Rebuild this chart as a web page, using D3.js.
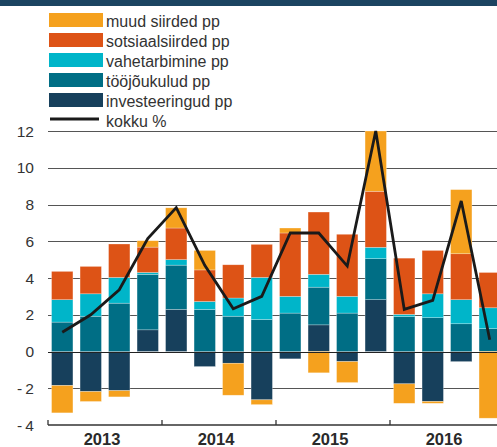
<!DOCTYPE html>
<html>
<head>
<meta charset="utf-8">
<script src="https://cdn.jsdelivr.net/npm/d3@7"></script>
<style>
  html, body { margin: 0; padding: 0; background: #fff; }
  svg { display: block; font-family: "Liberation Sans", Arial, sans-serif; }
</style>
</head>
<body>
<svg id="chart" width="497" height="447"></svg>
<script>
// Quarterly contributions (percentage points) and the total change (%)
const quarters = ["2013Q1","2013Q2","2013Q3","2013Q4","2014Q1","2014Q2","2014Q3","2014Q4",
                  "2015Q1","2015Q2","2015Q3","2015Q4","2016Q1","2016Q2","2016Q3","2016Q4"];
const years = ["2013", "2014", "2015", "2016"];
const investeeringud = [-1.85, -2.18, -2.13, 1.18, 2.29, -0.82, -0.64, -2.63, -0.40, 1.45, -0.55, 2.82, -1.76, -2.72, -0.55, 0.00];
const toojoukulud    = [ 1.60,  1.92,  2.63, 3.02, 2.41,  2.29,  1.92,  1.74,  2.09, 2.05,  2.09, 2.23,  1.90,  1.84,  1.51, 1.24];
const vahetarbimine  = [ 1.22,  1.22,  1.40, 0.10, 0.30,  0.43,  0.99,  2.29,  0.91, 0.70,  0.91, 0.62,  0.12,  1.30,  1.31, 1.14];
const sotsiaalsiirded= [ 1.54,  1.49,  1.82, 1.38, 1.72,  1.72,  1.81,  1.80,  3.45, 3.39,  3.38, 3.05,  3.06,  2.36,  2.50, 1.92];
const muudSiirded    = [-1.49, -0.54, -0.34, 0.35, 1.10,  1.06, -1.74, -0.26,  0.27,-1.16, -1.14, 3.28, -1.06, -0.10,  3.49,-3.63];
const kokku          = [ 1.05,  2.00,  3.36, 6.14, 7.83,  4.69,  2.33,  3.00,  6.45, 6.45,  4.65,12.00,  2.29,  2.78,  8.19, 0.64];
const yTicks = [-4, -2, 0, 2, 4, 6, 8, 10, 12];

const series = [
  { key: "investeeringud", label: "investeeringud pp", values: investeeringud, color: "#17405c" },
  { key: "toojoukulud",    label: "tööjõukulud pp",    values: toojoukulud,    color: "#006e85" },
  { key: "vahetarbimine",  label: "vahetarbimine pp",  values: vahetarbimine,  color: "#00b5c9" },
  { key: "sotsiaalsiirded",label: "sotsiaalsiirded pp",values: sotsiaalsiirded,color: "#dd5316" },
  { key: "muud",           label: "muud siirded pp",   values: muudSiirded,    color: "#f5a11e" }
];

const rows = quarters.map((q, i) => {
  const r = { q };
  series.forEach(s => r[s.key] = s.values[i]);
  return r;
});

const svg = d3.select("#chart");
const plotLeft = 48, plotRight = 504, plotTop = 131, plotBottom = 425;

const x = d3.scaleBand().domain(quarters).range([plotLeft, plotRight]).paddingInner(0.25).paddingOuter(0.125);
const y = d3.scaleLinear().domain([-4, 12]).range([plotBottom, plotTop]);

// header band
svg.append("rect").attr("x", 0).attr("y", 0).attr("width", 497).attr("height", 6).attr("fill", "#1b4461");

// gridlines
svg.append("g").selectAll("line").data(yTicks.filter(t => t > -4 && t !== 0)).join("line")
  .attr("x1", plotLeft).attr("x2", 497)
  .attr("y1", d => Math.round(y(d)) + 0.5).attr("y2", d => Math.round(y(d)) + 0.5)
  .attr("stroke", "#555").attr("stroke-width", 1);

// tick labels
svg.append("g").selectAll("text").data(yTicks).join("text")
  .attr("x", 34).attr("y", d => y(d) + 5.5)
  .attr("text-anchor", "end")
  .attr("font-size", 15.5).attr("fill", "#333")
  .text(d => d < 0 ? "-\u2009" + Math.abs(d) : d);

// stacked bars
const stack = d3.stack().keys(series.map(s => s.key)).offset(d3.stackOffsetDiverging);
const stacked = stack(rows);
svg.append("g").selectAll("g").data(stacked).join("g")
  .attr("fill", (d, i) => series[i].color)
  .selectAll("rect").data(d => d).join("rect")
  .attr("x", d => x(d.data.q))
  .attr("width", x.bandwidth())
  .attr("y", d => y(Math.max(d[0], d[1])))
  .attr("height", d => Math.abs(y(d[0]) - y(d[1])))
  .attr("stroke", "#ffffff").attr("stroke-opacity", 0.45).attr("stroke-width", 0.6);

// zero line
svg.append("line").attr("x1", plotLeft).attr("x2", 497)
  .attr("y1", Math.round(y(0)) + 0.5).attr("y2", Math.round(y(0)) + 0.5)
  .attr("stroke", "#222").attr("stroke-width", 1.2);

// total line
const line = d3.line().x((d, i) => x(quarters[i]) + x.bandwidth() / 2).y(d => y(d));
svg.append("path").datum(kokku).attr("d", line)
  .attr("fill", "none").attr("stroke", "#1a1a1a").attr("stroke-width", 2.8)
  .attr("stroke-linejoin", "miter");

// bottom axis with year ticks
const yearScale = d3.scaleBand().domain(years).range([plotLeft, plotRight]);
const axis = svg.append("g");
axis.append("line").attr("x1", plotLeft).attr("x2", 497).attr("y1", plotBottom).attr("y2", plotBottom)
  .attr("stroke", "#333").attr("stroke-width", 1.3);
axis.selectAll("line.tick").data(years.concat(["end"])).join("line").attr("class", "tick")
  .attr("x1", (d, i) => plotLeft + i * yearScale.bandwidth()).attr("x2", (d, i) => plotLeft + i * yearScale.bandwidth())
  .attr("y1", plotBottom - 5).attr("y2", plotBottom)
  .attr("stroke", "#333").attr("stroke-width", 1.3);
axis.selectAll("text").data(years).join("text")
  .attr("x", d => yearScale(d) + yearScale.bandwidth() / 2 - 3)
  .attr("y", 445)
  .attr("text-anchor", "middle")
  .attr("font-size", 16.5).attr("font-weight", "bold").attr("fill", "#2a2a2a")
  .text(d => d);

// legend
const legendItems = series.slice().reverse();
const legend = svg.append("g");
legendItems.forEach((s, i) => {
  legend.append("rect").attr("x", 49).attr("y", 13 + i * 20).attr("width", 54).attr("height", 14).attr("fill", s.color);
  legend.append("text").attr("x", 106).attr("y", 26.5 + i * 20)
    .attr("font-size", 16).attr("fill", "#333").text(s.label);
});
legend.append("line").attr("x1", 50).attr("x2", 99).attr("y1", 119).attr("y2", 119)
  .attr("stroke", "#1a1a1a").attr("stroke-width", 3);
legend.append("text").attr("x", 106).attr("y", 126.5).attr("font-size", 16).attr("fill", "#333").text("kokku %");
</script>
</body>
</html>
